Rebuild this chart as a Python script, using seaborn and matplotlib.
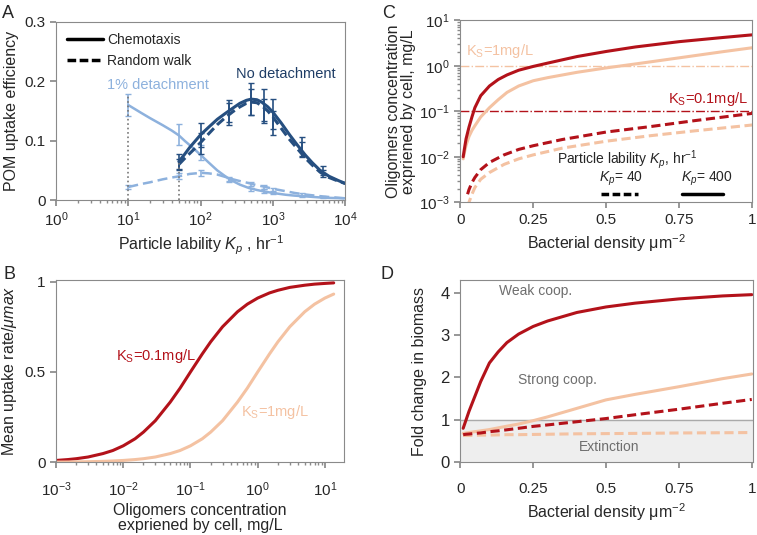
import numpy as np
import matplotlib
matplotlib.use("Agg")
import matplotlib.pyplot as plt
import seaborn as sns

sns.set_theme(style="white")
plt.rcParams['font.family'] = ['Liberation Sans', 'DejaVu Sans']
plt.rcParams['mathtext.fontset'] = 'custom'
plt.rcParams['mathtext.rm'] = 'Liberation Sans'
plt.rcParams['mathtext.it'] = 'Liberation Sans:italic'
plt.rcParams['mathtext.default'] = 'regular'

DARK_BLUE = "#264f80"
LIGHT_BLUE = "#8db1dd"
RED = "#b3121a"
PEACH = "#f4c2a2"
GRAY_TXT = "#6e6e6e"
SPINE = "#8a8a8a"

# ---------------- panel A data ----------------
kp_pts = [50, 100, 250, 500, 750, 1000, 2500, 5000]
nodet_chemo_mean = [0.065, 0.11, 0.15, 0.17, 0.16, 0.145, 0.09, 0.05]
nodet_chemo_err = [0.012, 0.02, 0.018, 0.027, 0.027, 0.025, 0.016, 0.008]
nodet_rw_mean = [0.06, 0.095, 0.145, 0.165, 0.15, 0.13, 0.085, 0.045]
nodet_rw_err = [0.01, 0.018, 0.018, 0.022, 0.02, 0.02, 0.012, 0.006]

kp_pts_det = [10, 50, 100, 250, 500, 750, 1000, 2500, 5000]
det_chemo_mean = [0.16, 0.11, 0.08, 0.035, 0.018, 0.015, 0.012, 0.006, 0.004]
det_chemo_err = [0.018, 0.018, 0.012, 0.004, 0.003, 0.003, 0.002, 0.001, 0.001]
det_rw_mean = [0.022, 0.04, 0.046, 0.035, 0.027, 0.022, 0.018, 0.01, 0.006]
det_rw_err = [0.003, 0.005, 0.005, 0.003, 0.003, 0.003, 0.003, 0.002, 0.001]

kp_curve = [50, 60, 70, 85, 100, 130, 170, 220, 280, 350, 430, 500, 600, 700, 850,
            1000, 1300, 1700, 2200, 2800, 3500, 4500, 6000, 8000, 10000]
nodet_chemo_curve = [0.065, 0.077, 0.088, 0.1, 0.11, 0.123, 0.136, 0.146, 0.155, 0.163, 0.168,
                     0.17, 0.169, 0.165, 0.157, 0.148, 0.13, 0.11, 0.092, 0.076, 0.063, 0.05,
                     0.04, 0.033, 0.028]
nodet_rw_curve = [0.06, 0.07, 0.078, 0.088, 0.097, 0.112, 0.127, 0.139, 0.149, 0.157, 0.163,
                  0.165, 0.164, 0.159, 0.15, 0.14, 0.121, 0.102, 0.086, 0.071, 0.059, 0.047,
                  0.038, 0.032, 0.028]
kp_curve_det = [10, 15, 20, 30, 40, 50, 60, 70, 85, 100, 130, 170, 220, 280, 350, 450, 600,
                800, 1000, 1500, 2000, 3000, 5000, 10000]
det_chemo_curve = [0.16, 0.147, 0.138, 0.126, 0.117, 0.109, 0.1, 0.093, 0.084, 0.076, 0.063,
                   0.05, 0.04, 0.032, 0.026, 0.021, 0.017, 0.014, 0.012, 0.009, 0.0075, 0.006,
                   0.004, 0.003]
det_rw_curve = [0.022, 0.027, 0.03, 0.035, 0.038, 0.04, 0.042, 0.044, 0.045, 0.046, 0.045,
                0.043, 0.039, 0.035, 0.032, 0.029, 0.025, 0.022, 0.019, 0.015, 0.012, 0.009,
                0.006, 0.003]

# ---------------- panel B data ----------------
conc = [0.001, 0.0015, 0.002, 0.003, 0.005, 0.007, 0.01, 0.015, 0.02, 0.03, 0.05, 0.07, 0.1,
        0.15, 0.2, 0.3, 0.5, 0.7, 1, 1.5, 2, 3, 5, 7, 10, 13.5]
uptake_ks01 = [0.0099, 0.0148, 0.0196, 0.029, 0.048, 0.065, 0.091, 0.13, 0.167, 0.23, 0.333,
               0.41, 0.5, 0.6, 0.667, 0.75, 0.833, 0.875, 0.909, 0.9375, 0.952, 0.968, 0.98,
               0.986, 0.99, 0.993]
uptake_ks1 = [0.001, 0.0015, 0.002, 0.003, 0.005, 0.007, 0.0099, 0.0148, 0.0196, 0.029, 0.048,
              0.065, 0.091, 0.13, 0.167, 0.23, 0.333, 0.41, 0.5, 0.6, 0.667, 0.75, 0.833,
              0.875, 0.909, 0.931]

# ---------------- panel C data ----------------
dens = [0.01, 0.015, 0.02, 0.03, 0.04, 0.05, 0.07, 0.1, 0.13, 0.16, 0.2, 0.25, 0.3, 0.4,
        0.5, 0.6, 0.75, 0.9, 1.0]
oligo_ks01_400 = [0.01, 0.016, 0.025, 0.045, 0.075, 0.12, 0.22, 0.36, 0.5, 0.63, 0.8, 0.97,
                  1.15, 1.6, 2.07, 2.6, 3.4, 4.2, 4.8]
oligo_ks1_400 = [0.009, 0.013, 0.018, 0.028, 0.038, 0.048, 0.075, 0.12, 0.18, 0.26, 0.36,
                 0.47, 0.55, 0.72, 0.9, 1.1, 1.5, 2.05, 2.5]
dens_d = [0.025, 0.03, 0.04, 0.05, 0.07, 0.1, 0.15, 0.2, 0.25, 0.35, 0.5, 0.65, 0.8, 1.0]
oligo_ks01_40 = [0.0015, 0.0019, 0.0027, 0.0035, 0.0052, 0.0075, 0.011, 0.0145, 0.0175,
                 0.024, 0.035, 0.046, 0.062, 0.09]
oligo_ks1_40 = [0.0008, 0.001, 0.0015, 0.0021, 0.0032, 0.0045, 0.0068, 0.009, 0.011, 0.0155,
                0.022, 0.029, 0.037, 0.05]

# ---------------- panel D data ----------------
dens_fold = [0.01, 0.02, 0.03, 0.05, 0.07, 0.1, 0.13, 0.16, 0.2, 0.25, 0.3, 0.4, 0.5, 0.6,
             0.75, 0.9, 1.0]
fold_ks01_400 = [0.8, 1.0, 1.2, 1.55, 1.9, 2.34, 2.6, 2.82, 3.02, 3.2, 3.33, 3.53, 3.66, 3.75,
                 3.85, 3.92, 3.95]
fold_ks1_400 = [0.68, 0.69, 0.7, 0.72, 0.74, 0.77, 0.81, 0.85, 0.9, 0.98, 1.07, 1.27, 1.47,
                1.6, 1.78, 1.97, 2.08]
fold_ks01_40 = [0.65, 0.66, 0.665, 0.68, 0.69, 0.72, 0.74, 0.765, 0.8, 0.845, 0.88, 0.955,
                1.03, 1.12, 1.25, 1.39, 1.48]
fold_ks1_40 = [0.63, 0.63, 0.63, 0.635, 0.64, 0.64, 0.645, 0.65, 0.65, 0.655, 0.66, 0.67,
               0.675, 0.68, 0.69, 0.695, 0.7]

fig = plt.figure(figsize=(7.57, 5.35), dpi=100)
axA = fig.add_axes([0.074, 0.626, 0.382, 0.333])
axB = fig.add_axes([0.074, 0.136, 0.381, 0.341])
axC = fig.add_axes([0.608, 0.622, 0.386, 0.340])
axD = fig.add_axes([0.608, 0.136, 0.387, 0.341])

for ax in (axA, axB, axC, axD):
    for s in ax.spines.values():
        s.set_color(SPINE)
        s.set_linewidth(0.8)
    ax.tick_params(axis='both', which='both', direction='out', color=SPINE,
                   labelsize=11, bottom=True, left=True)
    ax.tick_params(which='major', length=4)
    ax.tick_params(which='minor', length=2.5)

# ---------------- A ----------------
axA.set_xscale('log')
sns.lineplot(x=kp_curve_det, y=det_chemo_curve, ax=axA, color=LIGHT_BLUE, lw=1.8)
sns.lineplot(x=kp_curve_det, y=det_rw_curve, ax=axA, color=LIGHT_BLUE, lw=1.8, linestyle=(0, (4, 2)))
sns.lineplot(x=kp_curve, y=nodet_chemo_curve, ax=axA, color=DARK_BLUE, lw=2.2)
sns.lineplot(x=kp_curve, y=nodet_rw_curve, ax=axA, color=DARK_BLUE, lw=2.2, linestyle=(0, (3, 1.5)))
axA.errorbar(kp_pts_det, det_chemo_mean, yerr=det_chemo_err, fmt='none', ecolor=LIGHT_BLUE, capsize=2.5, lw=1.2)
axA.errorbar(kp_pts_det, det_rw_mean, yerr=det_rw_err, fmt='none', ecolor=LIGHT_BLUE, capsize=2.5, lw=1.2)
axA.errorbar(kp_pts, nodet_chemo_mean, yerr=nodet_chemo_err, fmt='none', ecolor=DARK_BLUE, capsize=2.5, lw=1.2)
axA.errorbar(kp_pts, nodet_rw_mean, yerr=nodet_rw_err, fmt='none', ecolor=DARK_BLUE, capsize=2.5, lw=1.2)
axA.vlines([kp_pts_det[0], kp_pts[0]], 0, [det_chemo_mean[0] + det_chemo_err[0], nodet_chemo_mean[0]],
           colors='#777777', linestyles=':', lw=1.2)
axA.set_xlim(1, 1e4)
axA.set_ylim(0, 0.3)
axA.set_yticks([0, 0.1, 0.2, 0.3])
axA.set_yticklabels(['0', '0.1', '0.2', '0.3'])
axA.set_xticks([1, 10, 100, 1000, 10000])
axA.set_xticklabels(['$10^0$', '$10^1$', '$10^2$', '$10^3$', '$10^4$'])
axA.set_xlabel('Particle lability $\\mathit{K_p}$ , hr$^{-1}$', fontsize=11.5, labelpad=3)
axA.set_ylabel('POM uptake efficiency', fontsize=11.5, labelpad=4)
axA.text(26, 0.193, '1% detachment', color=LIGHT_BLUE, fontsize=10.5, ha='center', va='center')
axA.text(1500, 0.212, 'No detachment', color='#1f3d66', fontsize=10.5, ha='center', va='center')
hA = [plt.Line2D([], [], color='black', lw=2.5),
      plt.Line2D([], [], color='black', lw=2.5, linestyle=(0, (2.5, 1)))]
axA.legend(hA, ['Chemotaxis', 'Random walk'], loc='upper left', frameon=False, fontsize=10,
           handlelength=2.6, handletextpad=0.3, borderaxespad=0.4, labelspacing=0.5)

# ---------------- B ----------------
axB.set_xscale('log')
sns.lineplot(x=conc, y=uptake_ks01, ax=axB, color=RED, lw=2.2)
sns.lineplot(x=conc, y=uptake_ks1, ax=axB, color=PEACH, lw=2.2)
axB.set_xlim(1e-3, 19.5)
axB.set_ylim(0, 1.01)
axB.set_yticks([0, 0.5, 1])
axB.set_yticklabels(['0', '0.5', '1'])
axB.set_xticks([1e-3, 1e-2, 1e-1, 1, 10])
axB.set_xticklabels(['$10^{-3}$', '$10^{-2}$', '$10^{-1}$', '$10^0$', '$10^1$'])
axB.tick_params(axis='x', pad=9)
axB.set_xlabel('Oligomers concentration\nexpriened by cell, mg/L', fontsize=11.5, labelpad=3,
               linespacing=1.0)
axB.set_ylabel('Mean uptake rate/$\\mathit{\\mu max}$', fontsize=11.5, labelpad=4)
axB.text(0.031, 0.59, 'K$_S$=0.1mg/L', color=RED, fontsize=10.5, ha='center', va='center')
axB.text(1.8, 0.28, 'K$_S$=1mg/L', color=PEACH, fontsize=10.5, ha='center', va='center')

# ---------------- C ----------------
axC.set_yscale('log')
axC.axhline(1, color=PEACH, lw=1, linestyle='-.')
axC.axhline(0.1, color=RED, lw=1, linestyle='-.')
sns.lineplot(x=dens, y=oligo_ks1_400, ax=axC, color=PEACH, lw=2.2)
sns.lineplot(x=dens, y=oligo_ks01_400, ax=axC, color=RED, lw=2.2)
sns.lineplot(x=dens_d, y=oligo_ks1_40, ax=axC, color=PEACH, lw=2.2, linestyle=(0, (3, 1.5)))
sns.lineplot(x=dens_d, y=oligo_ks01_40, ax=axC, color=RED, lw=2.2, linestyle=(0, (3, 1.5)))
axC.set_xlim(0, 1)
axC.set_ylim(1e-3, 10)
axC.set_xticks([0, 0.25, 0.5, 0.75, 1])
axC.set_xticklabels(['0', '0.25', '0.5', '0.75', '1'])
axC.set_yticks([1e-3, 1e-2, 1e-1, 1, 10])
axC.set_yticklabels(['$10^{-3}$', '$10^{-2}$', '$10^{-1}$', '$10^0$', '$10^1$'])
axC.set_xlabel('Bacterial density μm$^{-2}$', fontsize=11.5, labelpad=4)
axC.set_ylabel('Oligomers concentration\nexpriened by cell, mg/L', fontsize=11.5, labelpad=2,
               linespacing=1.0)
axC.text(0.02, 2.1, 'K$_S$=1mg/L', color=PEACH, fontsize=10.5, ha='left', va='center')
axC.text(0.985, 0.19, 'K$_S$=0.1mg/L', color=RED, fontsize=10.5, ha='right', va='center')
axC.text(0.57, 0.235, 'Particle lability $\\mathit{K_p}$, hr$^{-1}$', transform=axC.transAxes,
         fontsize=10, ha='center', va='center')
axC.text(0.55, 0.13, '$\\mathit{K_p}$= 40', transform=axC.transAxes, fontsize=10, ha='center', va='center')
axC.text(0.845, 0.13, '$\\mathit{K_p}$= 400', transform=axC.transAxes, fontsize=10, ha='center', va='center')
axC.plot([0.48, 0.61], [0.045, 0.045], transform=axC.transAxes, color='black', lw=2.5,
         linestyle=(0, (2.2, 1)))
axC.plot([0.76, 0.9], [0.045, 0.045], transform=axC.transAxes, color='black', lw=2.5)

# ---------------- D ----------------
axD.axhspan(0, 1, color='#eeeeee', zorder=0)
axD.axhline(1, color='#aaaaaa', lw=1, zorder=1)
sns.lineplot(x=dens_fold, y=fold_ks1_40, ax=axD, color=PEACH, lw=2.2, linestyle=(0, (3, 1.5)))
sns.lineplot(x=dens_fold, y=fold_ks1_400, ax=axD, color=PEACH, lw=2.2)
sns.lineplot(x=dens_fold, y=fold_ks01_40, ax=axD, color=RED, lw=2.2, linestyle=(0, (3, 1.5)))
sns.lineplot(x=dens_fold, y=fold_ks01_400, ax=axD, color=RED, lw=2.2)
axD.set_xlim(0, 1.005)
axD.set_ylim(0, 4.3)
axD.set_xticks([0, 0.25, 0.5, 0.75, 1])
axD.set_xticklabels(['0', '0.25', '0.5', '0.75', '1'])
axD.set_yticks([0, 1, 2, 3, 4])
axD.tick_params(axis='x', pad=10)
axD.tick_params(axis='y', labelsize=12)
axD.set_xlabel('Bacterial density μm$^{-2}$', fontsize=11.5, labelpad=4)
axD.set_ylabel('Fold change in biomass', fontsize=11.5, labelpad=10)
axD.text(0.26, 4.03, 'Weak coop.', color=GRAY_TXT, fontsize=10, ha='center', va='center')
axD.text(0.335, 1.95, 'Strong coop.', color=GRAY_TXT, fontsize=10, ha='center', va='center')
axD.text(0.51, 0.35, 'Extinction', color=GRAY_TXT, fontsize=10, ha='center', va='center')

for lab, x, y in [('A', 0.003, 0.99), ('B', 0.005, 0.503), ('C', 0.505, 0.99), ('D', 0.503, 0.503)]:
    fig.text(x, y, lab, fontsize=13, ha='left', va='top')

fig.savefig('out.png', dpi=100)
